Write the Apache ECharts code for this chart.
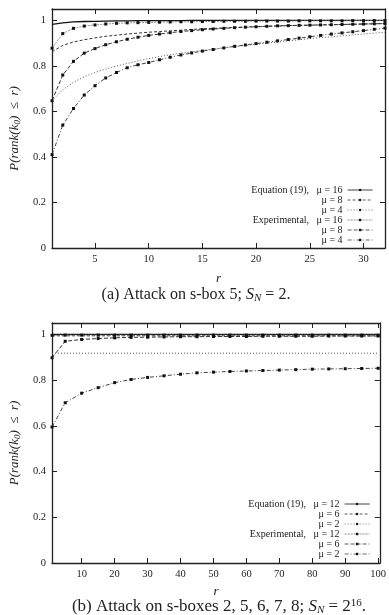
<!DOCTYPE html>
<html><head><meta charset="utf-8">
<script src="https://cdn.jsdelivr.net/npm/echarts@6/dist/echarts.min.js"></script>
<style>html,body{margin:0;padding:0;background:#fff}#c{width:389px;height:615px}</style>
</head><body><div id="c"></div>
<script>
// ---- Chart (a): attack on s-box 5, S_N = 2 ----
const rA = [1,2,3,4,5,6,7,8,9,10,11,12,13,14,15,16,17,18,19,20,21,22,23,24,25,26,27,28,29,30,31,32];
const eq16A = [0.982,0.989,0.993,0.995,0.996,0.997,0.998,0.998,0.999,0.999,0.999,0.999,0.999,1,1,1,1,1,1,1,1,1,1,1,1,1,1,1,1,1,1,1];
const eq8A  = [0.862,0.890,0.905,0.915,0.923,0.930,0.935,0.940,0.944,0.948,0.951,0.954,0.957,0.960,0.963,0.965,0.967,0.969,0.971,0.972,0.974,0.975,0.977,0.978,0.979,0.980,0.981,0.982,0.983,0.984,0.985,0.986];
const eq4A  = [0.647,0.695,0.728,0.752,0.771,0.786,0.799,0.811,0.822,0.832,0.841,0.849,0.856,0.862,0.868,0.874,0.880,0.885,0.890,0.895,0.900,0.905,0.910,0.915,0.920,0.924,0.928,0.932,0.936,0.940,0.944,0.948];
const exp16A = [0.878,0.942,0.965,0.975,0.980,0.984,0.987,0.989,0.990,0.991,0.992,0.993,0.994,0.994,0.995,0.995,0.996,0.996,0.996,0.997,0.997,0.997,0.997,0.998,0.998,0.998,0.998,0.998,0.999,0.999,0.999,0.999];
const exp8A  = [0.647,0.760,0.820,0.856,0.876,0.893,0.906,0.917,0.926,0.934,0.940,0.946,0.951,0.955,0.959,0.962,0.965,0.968,0.970,0.972,0.974,0.976,0.977,0.978,0.979,0.980,0.981,0.982,0.983,0.984,0.985,0.986];
const exp4A  = [0.410,0.540,0.613,0.672,0.713,0.747,0.771,0.792,0.805,0.815,0.827,0.838,0.848,0.857,0.865,0.872,0.879,0.886,0.892,0.898,0.904,0.910,0.916,0.922,0.928,0.934,0.940,0.945,0.950,0.955,0.961,0.966];
const xTicksA = [5,10,15,20,25,30];

// ---- Chart (b): attack on s-boxes 2,5,6,7,8, S_N = 2^16 ----
const rB = [1,5,10,15,20,25,30,35,40,45,50,55,60,65,70,75,80,85,90,95,100];
const eq12B = [1,1,1,1,1,1,1,1,1,1,1,1,1,1,1,1,1,1,1,1,1];
const eq6B  = [0.994,0.994,0.994,0.994,0.994,0.994,0.994,0.994,0.994,0.994,0.994,0.994,0.994,0.994,0.994,0.994,0.994,0.994,0.994,0.994,0.994];
const eq2B  = [0.918,0.918,0.918,0.918,0.918,0.918,0.918,0.918,0.918,0.918,0.918,0.918,0.918,0.918,0.918,0.918,0.918,0.918,0.918,0.918,0.918];
const exp12B = [0.996,0.997,0.997,0.997,0.997,0.997,0.997,0.997,0.997,0.997,0.997,0.997,0.997,0.997,0.997,0.997,0.997,0.997,0.997,0.997,0.997];
const exp6B  = [0.898,0.970,0.978,0.982,0.985,0.987,0.988,0.989,0.990,0.990,0.991,0.991,0.991,0.992,0.992,0.992,0.992,0.993,0.993,0.993,0.993];
const exp2B  = [0.595,0.701,0.743,0.767,0.789,0.803,0.812,0.819,0.826,0.832,0.835,0.838,0.840,0.842,0.844,0.846,0.848,0.849,0.850,0.851,0.852];
const xTicksB = [10,20,30,40,50,60,70,80,90,100];

const yTicks = [0,0.2,0.4,0.6,0.8,1];

const legendA = {a_eq16:'Equation (19),   \u03bc = 16', a_eq8:'\u03bc = 8', a_eq4:'\u03bc = 4', a_ex16:'Experimental,   \u03bc = 16', a_ex8:'\u03bc = 8', a_ex4:'\u03bc = 4'};
const legendB = {b_eq12:'Equation (19),   \u03bc = 12', b_eq6:'\u03bc = 6', b_eq2:'\u03bc = 2', b_ex12:'Experimental,   \u03bc = 12', b_ex6:'\u03bc = 6', b_ex2:'\u03bc = 2'};

const FONT = 'Liberation Serif';
const INK = '#222';

function pairs(xs, ys){ return xs.map((x,i)=>[x, ys[i]]); }

function xAxisPair(gi, min, max, ticks, gap){
  const common = {type:'value', gridIndex:gi, min:min, max:max, splitLine:{show:false},
    axisLine:{onZero:false, lineStyle:{color:INK, width:1.3}},
    axisTick:{inside:true, length:5, customValues:ticks, lineStyle:{color:INK, width:1}}};
  return [
    Object.assign({}, common, {position:'bottom',
      axisLabel:{customValues:ticks, color:INK, fontFamily:FONT, fontSize:10.5, margin:6},
      name:'r', nameLocation:'middle', nameGap:gap,
      nameTextStyle:{fontFamily:FONT, fontStyle:'italic', fontSize:13, color:INK}}),
    Object.assign({}, common, {position:'top', axisLabel:{show:false}})
  ];
}
function yAxisPair(gi){
  const common = {type:'value', gridIndex:gi, min:0, max:1.05, splitLine:{show:false},
    axisLine:{onZero:false, lineStyle:{color:INK, width:1.3}},
    axisTick:{inside:true, length:5, customValues:yTicks, lineStyle:{color:INK, width:1}}};
  return [
    Object.assign({}, common, {position:'left',
      axisLabel:{customValues:yTicks, color:INK, fontFamily:FONT, fontSize:10.5, margin:6},
      name:'{i|P(rank(k}{s|0}{i|)}{n|  \u2264  }{i|r)}', nameLocation:'middle', nameGap:30, nameRotate:90,
      nameTextStyle:{fontFamily:FONT, fontSize:13, color:INK,
        rich:{i:{fontFamily:FONT, fontStyle:'italic', fontSize:13, color:INK},
              s:{fontFamily:FONT, fontStyle:'italic', fontSize:9, color:INK, padding:[6,0,0,0]},
              n:{fontFamily:FONT, fontSize:13, color:INK}}}}),
    Object.assign({}, common, {position:'right', axisLabel:{show:false}})
  ];
}

const styles = {
  eq16:{lineStyle:{color:'#111', width:1.3, type:'solid'}, symbol:'none'},
  eq8:{lineStyle:{color:'#333', width:1, type:[3,2]}, symbol:'none'},
  eq4:{lineStyle:{color:'#555', width:1, type:[1,2]}, symbol:'none'},
  ex16:{lineStyle:{color:'#777', width:0.8, type:[2,1]}, symbol:'rect', symbolSize:3},
  ex8:{lineStyle:{color:'#333', width:1, type:[4,2]}, symbol:'rect', symbolSize:3},
  ex4:{lineStyle:{color:'#444', width:1, type:[4,2,1,2]}, symbol:'rect', symbolSize:3}
};
function mk(name, key, xi, data){
  const s = styles[key];
  return {type:'line', name:name, xAxisIndex:xi, yAxisIndex:xi, data:data,
    symbol:s.symbol, symbolSize:s.symbolSize||0, showSymbol:s.symbol!=='none',
    itemStyle:{color:'#111'}, lineStyle:s.lineStyle, z: 2, silent:true};
}

const series = [
  mk('a_eq16','eq16',0,pairs(rA,eq16A)),
  mk('a_eq8','eq8',0,pairs(rA,eq8A)),
  mk('a_eq4','eq4',0,pairs(rA,eq4A)),
  mk('a_ex16','ex16',0,pairs(rA,exp16A)),
  mk('a_ex8','ex8',0,pairs(rA,exp8A)),
  mk('a_ex4','ex4',0,pairs(rA,exp4A)),
  mk('b_eq12','eq16',2,pairs(rB,eq12B)),
  mk('b_eq6','eq8',2,pairs(rB,eq6B)),
  mk('b_eq2','eq4',2,pairs(rB,eq2B)),
  mk('b_ex12','ex16',2,pairs(rB,exp12B)),
  mk('b_ex6','ex8',2,pairs(rB,exp6B)),
  mk('b_ex2','ex4',2,pairs(rB,exp2B))
];

function legendCfg(map, right, top){
  return {data:Object.keys(map), orient:'vertical', align:'right', right:right, top:top, padding:0,
    itemWidth:25, itemHeight:3, itemGap:0, selectedMode:false,
    formatter:(n)=>map[n],
    lineStyle:{width:0.8},
    textStyle:{fontFamily:FONT, fontSize:10, color:INK, lineHeight:10}};
}

const chart = echarts.init(document.getElementById('c'), null, {renderer:'canvas'});
chart.setOption({
  animation:false,
  backgroundColor:'#fff',
  grid:[{left:52, top:9, width:333, height:239}, {left:47, top:323, width:335, height:240}],
  xAxis:[].concat(xAxisPair(0,1,32,xTicksA,24), xAxisPair(1,1,100.5,xTicksB,22)),
  yAxis:[].concat(yAxisPair(0), yAxisPair(1)),
  legend:[legendCfg(legendA,16,185), legendCfg(legendB,19,499)],
  series:series,
  graphic:[
    {type:'text', x:196, y:295, style:{text:'(a) Attack on s-box 5; {i|S}{s|N}{n| = 2.}', textAlign:'center', textVerticalAlign:'middle',
      fontFamily:FONT, fontSize:16, fill:INK,
      rich:{i:{fontFamily:FONT, fontStyle:'italic', fontSize:16, fill:INK},
            s:{fontFamily:FONT, fontStyle:'italic', fontSize:11, fill:INK, padding:[6,0,0,0]},
            n:{fontFamily:FONT, fontSize:16, fill:INK}}}},
    {type:'text', x:219, y:607, style:{text:'(b) Attack on s-boxes 2, 5, 6, 7, 8; {i|S}{s|N}{n| = 2}{p|16}{n|.}', textAlign:'center', textVerticalAlign:'middle',
      fontFamily:FONT, fontSize:17, fill:INK,
      rich:{i:{fontFamily:FONT, fontStyle:'italic', fontSize:17, fill:INK},
            s:{fontFamily:FONT, fontStyle:'italic', fontSize:11, fill:INK, padding:[6,0,0,0]},
            p:{fontFamily:FONT, fontSize:11, fill:INK, padding:[0,0,8,0]},
            n:{fontFamily:FONT, fontSize:17, fill:INK}}}}
  ]
});
</script>
</body></html>
